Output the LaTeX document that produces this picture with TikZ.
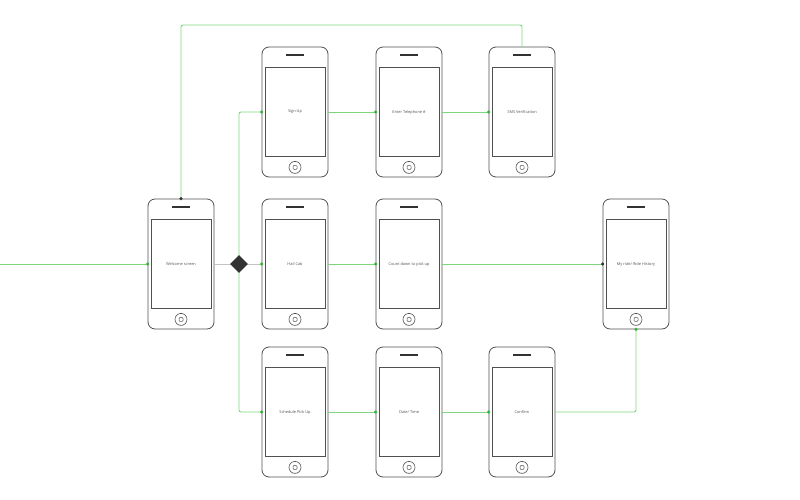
\documentclass[tikz,border=0pt]{standalone}
\usepackage{fontspec}
\setmainfont{Open Sans}
\usetikzlibrary{shapes.geometric}
\definecolor{bodygray}{HTML}{505050}
\definecolor{textgray}{HTML}{555555}
\definecolor{linegreen}{HTML}{7FD47F}
\definecolor{dotgreen}{HTML}{35B535}
\definecolor{linegray}{HTML}{C4C4C4}
\definecolor{darkfill}{HTML}{333333}
\newcommand\phonescreen[4]{%
  \node[body] (#1) at (#2,#3) {};
  \node[screen] (#1s) at (#2,#3) {#4};
  \draw[speaker] ([xshift=-9pt,yshift=-8pt]#1.north) -- ([xshift=9pt,yshift=-8pt]#1.north);
  \node[homebtn] (#1h) at ([yshift=10pt]#1.south) {};
  \node[homesq] (#1q) at (#1h) {};
}
\begin{document}
\begin{tikzpicture}[x=1pt,y=-1pt,
  body/.style={draw=bodygray, line width=0.8pt, rounded corners=7pt, minimum width=66pt, minimum height=130pt, inner sep=0pt, fill=white},
  screen/.style={draw=bodygray, line width=0.7pt, minimum width=60pt, minimum height=89pt, inner sep=0pt, font=\fontsize{3.9}{5}\selectfont, text=textgray},
  speaker/.style={draw=darkfill, line width=2pt},
  homebtn/.style={circle, draw=bodygray, line width=0.6pt, minimum size=12pt, inner sep=0pt},
  homesq/.style={draw=bodygray, line width=0.5pt, rounded corners=1pt, minimum size=4pt, inner sep=0pt},
  gline/.style={draw=linegreen, line width=0.9pt, rounded corners=2pt},
  grline/.style={draw=linegray, line width=0.9pt},
  gdot/.style={fill=dotgreen},
  ddot/.style={fill=darkfill},
  decision/.style={diamond, fill=darkfill, minimum size=18pt, inner sep=0pt}
]
\useasboundingbox (0,0) rectangle (800,500);
\phonescreen{welcome}{181}{264}{Welcome screen}
\phonescreen{signup}{295}{112}{Sign Up}
\phonescreen{tel}{409}{112}{Enter Telephone \#}
\phonescreen{sms}{522}{112}{SMS Verification}
\phonescreen{hail}{295}{264}{Hail Cab}
\phonescreen{count}{409}{264}{Count down to pick up}
\phonescreen{hist}{636}{264}{My ride/ Ride History}
\phonescreen{sched}{295}{412}{Schedule Pick Up}
\phonescreen{date}{409}{412}{Date/ Time}
\phonescreen{conf}{522}{412}{Confirm}
\coordinate (start) at (0,264);
\coordinate (topy) at (350,25);
\coordinate (decc) at (239,264);
% connectors
\draw[gline] (start) -- (welcome.west);
\draw[gline] (welcome.north) |- (topy) -| (sms.north);
\draw[grline] (welcome.east) -- (hail.west);
\draw[gline] (decc) |- (signup.west);
\draw[gline] (decc) |- (sched.west);
\draw[gline] (signup.east) -- (tel.west);
\draw[gline] (tel.east) -- (sms.west);
\draw[gline] (hail.east) -- (count.west);
\draw[gline] (count.east) -- (hist.west);
\draw[gline] (sched.east) -- (date.west);
\draw[gline] (date.east) -- (conf.west);
\draw[gline] (conf.east) -| (hist.south);
\node[decision] (dec) at (decc) {};
% dots
\fill[gdot] (welcome.west) circle (1.7pt);
\fill[ddot] (welcome.north) circle (1.7pt);
\fill[gdot] (signup.west) circle (1.7pt);
\fill[gdot] (sched.west) circle (1.7pt);
\fill[gdot] (hail.west) circle (1.7pt);
\fill[gdot] (tel.west) circle (1.7pt);
\fill[gdot] (sms.west) circle (1.7pt);
\fill[gdot] (count.west) circle (1.7pt);
\fill[ddot] (hist.west) circle (1.7pt);
\fill[gdot] (date.west) circle (1.7pt);
\fill[gdot] (conf.west) circle (1.7pt);
\fill[gdot] (hist.south) circle (1.7pt);
\end{tikzpicture}
\end{document}
